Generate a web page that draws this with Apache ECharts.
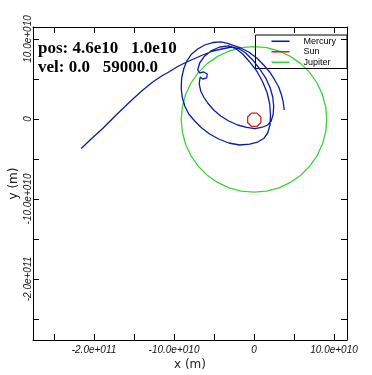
<!DOCTYPE html>
<html><head><meta charset="utf-8">
<script src="https://cdn.jsdelivr.net/npm/echarts@6/dist/echarts.min.js"></script>
<style>html,body{margin:0;padding:0;background:#fff}#c{width:372px;height:375px}</style>
</head><body><div id="c"></div>
<script>
// Values in units of 1e9 m (Gm), converted to metres below
const GM = 1e9;
const mercuryPath = [
 [37.8,11.3],[36.5,21.3],[34.0,31.3],[30.9,40.0],[25.9,48.8],[19.6,58.8],[12.1,67.5],[3.4,76.3],[-6.6,83.8],[-16.6,88.8],[-24.1,91.3],
 [-32.9,94.4],[-41.6,96.3],[-51.6,95.6],[-61.6,92.5],[-70.4,87.5],[-77.9,81.3],[-84.1,72.5],[-87.9,62.5],[-90.4,51.3],[-91.0,38.8],
 [-89.8,27.5],[-86.6,16.3],[-81.6,6.3],[-74.1,-2.5],[-65.4,-11.3],[-55.4,-18.8],[-44.1,-25.0],[-31.6,-30.0],[-17.9,-32.5],[-5.4,-31.3],
 [4.6,-28.8],[12.1,-24.4],[17.1,-17.5],[20.0,-7.5],[20.6,5.0],[19.6,18.8],[16.5,32.5],[10.9,46.3],[3.4,60.0],[-5.4,71.3],[-14.1,81.3],[-22.9,88.1],
 [-31.6,91.3],[-42.9,90.0],[-52.9,85.6],[-61.6,78.8],[-67.9,70.0],[-70.4,61.3],
 [-67.9,57.5],[-62.9,58.8],[-58.5,56.3],[-59.1,51.3],[-64.1,50.0],[-67.3,52.5],
 [-68.5,43.8],[-66.6,35.0],[-62.9,27.5],[-57.9,20.0],[-50.4,11.3],[-41.6,3.8],[-31.6,-2.5],[-20.4,-7.5],[-9.1,-10.6],[0.9,-11.9],
 [9.6,-10.6],[17.1,-7.5],[21.5,-2.5],[24.0,6.3],[24.6,16.3],[23.4,27.5],[20.3,38.8],[14.6,51.3],[7.1,62.5],[-1.6,73.8],[-10.4,82.5],[-19.1,88.1],[-27.9,90.0],
 [-40.4,87.5],[-52.9,84.4],[-64.1,80.0],[-74.1,75.6],[-85.4,70.6],[-95.4,65.6],[-105.4,59.4],[-115.4,53.8],[-126.6,46.3],[-140.4,35.0],
 [-155.4,21.3],[-172.9,4.4],[-189.1,-11.9],[-202.9,-24.4],[-216.0,-36.9]
];
const sunPath = [
 [8.6,2.4],[3.7,7.3],[-3.1,7.3],[-8.0,2.4],[-8.0,-4.4],[-3.1,-9.3],[3.7,-9.3],[8.6,-4.4],[8.6,2.4]
];
const jupiterPath = [
 [91,-0.5],[89.6,15.3],[85.5,30.6],[78.8,45.0],[69.7,58.0],[58.5,69.2],[45.5,78.3],[31.1,85.0],[15.8,89.1],[0,90.5],
 [-15.8,89.1],[-31.1,85.0],[-45.5,78.3],[-58.5,69.2],[-69.7,58.0],[-78.8,45.0],[-85.5,30.6],[-89.6,15.3],[-91,-0.5],
 [-89.6,-16.3],[-85.5,-31.6],[-78.8,-46.0],[-69.7,-59.0],[-58.5,-70.2],[-45.5,-79.3],[-31.1,-86.0],[-15.8,-90.1],[0,-91.5],
 [15.8,-90.1],[31.1,-86.0],[45.5,-79.3],[58.5,-70.2],[69.7,-59.0],[78.8,-46.0],[85.5,-31.6],[89.6,-16.3],[91,-0.5]
];
const seriesNames = ['Mercury','Sun','Jupiter'];
const tickValues = [-2.5e11,-2e11,-1.5e11,-1e11,-5e10,0,5e10,1e11];
const xLabelValues = [-2e11,-1e11,0,1e11];
const xTickLabels = ['-2.0e+011','-10.0e+010','0','10.0e+010'];
const yLabelValues = [1e11,0,-1e11,-2e11];
const yTickLabels = ['10.0e+010','0','-10.0e+010','-2.0e+011'];
const infoLines = ['pos: 4.6e10   1.0e10','vel: 0.0   59000.0'];

const toM = p => p.map(([x,y]) => [x*GM, y*GM]);
const fmt = (vals, labels) => v => { for (let i=0;i<vals.length;i++) if (Math.abs(vals[i]-v) < 1) return labels[i]; return ''; };

const X_MIN = -2.7625e11, X_MAX = 1.1625e11, Y_MIN = -2.7625e11, Y_MAX = 1.15e11;
const tickStyle = {show:true, inside:true, length:6, customValues:tickValues, lineStyle:{color:'#000', width:1}};
const lineAx = {show:true, onZero:false, lineStyle:{color:'#000', width:1}};
const lblFont = {fontStyle:'italic', fontFamily:'Liberation Sans', fontSize:10, color:'#111'};

const chart = echarts.init(document.getElementById('c'));
chart.setOption({
  animation:false,
  backgroundColor:'#fff',
  grid:{left:33, top:27, width:314, height:313, containLabel:false, outerBoundsMode:'none'},
  xAxis:[
    {type:'value', min:X_MIN, max:X_MAX, position:'bottom', axisLine:lineAx, splitLine:{show:false}, axisTick:tickStyle,
     axisLabel:Object.assign({customValues:xLabelValues, formatter:fmt(xLabelValues,xTickLabels), margin:5}, lblFont),
     name:'x (m)', nameLocation:'middle', nameGap:19, nameMoveOverlap:false, nameTextStyle:{fontFamily:'DejaVu Sans', fontSize:12, color:'#222'}},
    {type:'value', min:X_MIN, max:X_MAX, position:'top', axisLine:lineAx, splitLine:{show:false}, axisTick:tickStyle, axisLabel:{show:false}}
  ],
  yAxis:[
    {type:'value', min:Y_MIN, max:Y_MAX, position:'left', axisLine:lineAx, splitLine:{show:false}, axisTick:tickStyle,
     axisLabel:Object.assign({customValues:yLabelValues, formatter:fmt(yLabelValues,yTickLabels), rotate:90, margin:0}, lblFont),
     name:'y (m)', nameLocation:'middle', nameGap:13, nameRotate:90, nameMoveOverlap:false, nameTextStyle:{fontFamily:'DejaVu Sans', fontSize:12, color:'#222'}},
    {type:'value', min:Y_MIN, max:Y_MAX, position:'right', axisLine:lineAx, splitLine:{show:false}, axisTick:tickStyle, axisLabel:{show:false}}
  ],
  legend:{data:seriesNames, orient:'vertical', right:25, top:35, icon:'rect', itemWidth:18, itemHeight:1.5, itemGap:0,
    padding:[1,11,1,16], borderColor:'#000', borderWidth:1,
    textStyle:{fontFamily:'Liberation Sans', fontSize:9, color:'#000', lineHeight:10.5, padding:[0,0,0,9]}},
  graphic:[
    {type:'text', left:38, top:40, style:{text:infoLines[0], font:'bold 17px "Liberation Serif"', fill:'#000'}},
    {type:'text', left:38, top:59, style:{text:infoLines[1], font:'bold 17px "Liberation Serif"', fill:'#000'}}
  ],
  series:[
    {name:seriesNames[0], type:'line', data:toM(mercuryPath), showSymbol:false, symbol:'none', z:4,
     lineStyle:{color:'#0c1ca0', width:1.3}, itemStyle:{color:'#0c1ca0'}},
    {name:seriesNames[1], type:'line', data:toM(sunPath), showSymbol:false, symbol:'none', z:3,
     lineStyle:{color:'#d02020', width:1.3}, itemStyle:{color:'#d02020'}},
    {name:seriesNames[2], type:'line', data:toM(jupiterPath), showSymbol:false, symbol:'none', z:2,
     lineStyle:{color:'#3ad43a', width:1.3}, itemStyle:{color:'#3ad43a'}}
  ]
});
</script></body></html>
